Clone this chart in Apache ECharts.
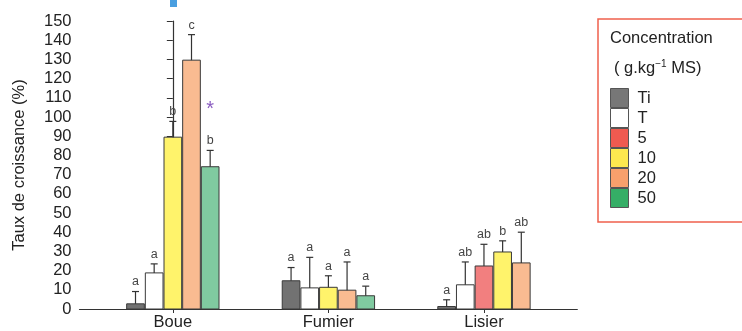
<!DOCTYPE html>
<html>
<head>
<meta charset="utf-8">
<script src="https://cdn.jsdelivr.net/npm/echarts@6/dist/echarts.min.js"></script>
<style>
  html, body { margin: 0; padding: 0; background: #fff; }
  #chart { width: 742px; height: 331px; }
</style>
</head>
<body>
<div id="chart"></div>
<script>
// Growth rate (%) by substrate and concentration (g.kg-1 MS)
const groups = ['Boue', 'Fumier', 'Lisier'];
const concentrations = ['Ti', 'T', '5', '10', '20', '50'];

// mean growth rate per substrate (null = not tested)
const meanTi = [2.7, 14.7, 1.3];
const meanT  = [18.8, 11.0, 12.6];
const mean5  = [null, null, 22.4];
const mean10 = [89.5, 11.3, 29.7];
const mean20 = [129.6, 9.8, 24.0];
const mean50 = [74.1, 6.9, null];

// upper error (standard error) per substrate
const errTi = [6.4, 6.9, 3.5];
const errT  = [4.7, 15.9, 11.9];
const err5  = [null, null, 11.3];
const err10 = [8.2, 6.0, 5.8];
const err20 = [13.3, 14.7, 16.0];
const err50 = [8.5, 5.0, null];

// significance letters
const letTi = ['a', 'a', 'a'];
const letT  = ['a', 'a', 'ab'];
const let5  = ['', '', 'ab'];
const let10 = ['b', 'a', 'b'];
const let20 = ['c', 'a', 'ab'];
const let50 = ['b', 'a', ''];

// asterisk marker level (significant difference)
const star50 = [104, null, null];

const yTicks = [0, 150, 10];

const means = [meanTi, meanT, mean5, mean10, mean20, mean50];
const errs = [errTi, errT, err5, err10, err20, err50];
const lets = [letTi, letT, let5, let10, let20, let50];
const stars = [null, null, null, null, null, star50];

const barFill = ['#727272', '#ffffff', '#f27f7f', '#fff36b', '#f9bb91', '#80caa0'];
const keyFill = ['#777777', '#ffffff', '#ef5a50', '#fde84f', '#f8a06c', '#35ae66'];

const SLOT = 0.12; // bar width in axis units

// slot of each concentration within each substrate group
function slotsFor(g) {
  const present = [];
  for (let c = 0; c < concentrations.length; c++) {
    if (means[c][g] != null) present.push(c);
  }
  return present;
}

const series = concentrations.map((name, c) => {
  const data = [];
  for (let g = 0; g < groups.length; g++) {
    if (means[c][g] == null) continue;
    const present = slotsFor(g);
    const slot = present.indexOf(c);
    const x = g + (slot - (present.length - 1) / 2) * SLOT;
    data.push([x, means[c][g], errs[c][g], lets[c][g], stars[c] ? stars[c][g] : null]);
  }
  return {
    name: name,
    type: 'custom',
    itemStyle: { color: barFill[c] },
    renderItem: function (params, api) {
      const x = api.value(0), v = api.value(1), e = api.value(2);
      const base = api.coord([x, 0]);
      const top = api.coord([x, v]);
      const up = api.coord([x, v + e]);
      const w = api.size([SLOT, 0])[0];
      const children = [
        {
          type: 'rect',
          shape: { x: base[0] - w / 2 + 0.5, y: top[1], width: w - 1, height: base[1] - top[1] },
          style: { fill: barFill[c], stroke: '#3a3a3a', lineWidth: 1 }
        },
        {
          type: 'line',
          shape: { x1: top[0], y1: top[1], x2: up[0], y2: up[1] },
          style: { stroke: '#333', lineWidth: 1.2 }
        },
        {
          type: 'line',
          shape: { x1: up[0] - 3.5, y1: up[1], x2: up[0] + 3.5, y2: up[1] },
          style: { stroke: '#333', lineWidth: 1.2 }
        }
      ];
      const letter = api.value(3);
      if (letter) {
        children.push({
          type: 'text',
          x: up[0], y: up[1] - 3,
          style: {
            text: letter, fill: '#444', fontSize: 12.5,
            fontFamily: 'Liberation Sans, Arial, sans-serif',
            align: 'center', verticalAlign: 'bottom'
          }
        });
      }
      const s = api.value(4);
      if (s != null && !isNaN(s)) {
        const p = api.coord([x, s]);
        children.push({
          type: 'text',
          x: p[0], y: p[1],
          style: {
            text: '*', fill: '#8a5cc0', fontSize: 20,
            fontFamily: 'Liberation Sans, Arial, sans-serif',
            align: 'center', verticalAlign: 'middle'
          }
        });
      }
      return { type: 'group', children: children };
    },
    encode: { x: 0, y: 1 },
    data: data
  };
});

const chart = echarts.init(document.getElementById('chart'), null, { renderer: 'canvas' });
const FONT = 'Liberation Sans, Arial, sans-serif';

chart.setOption({
  animation: false,
  backgroundColor: '#ffffff',
  grid: { left: 79.5, right: 164.7, top: 21, bottom: 21.5, containLabel: false },
  xAxis: {
    type: 'value',
    min: -0.6,
    max: 2.6,
    splitLine: { show: false },
    axisLine: { show: true, lineStyle: { color: '#333', width: 1.2 } },
    axisTick: { show: true, customValues: [0, 1, 2], length: 4, lineStyle: { color: '#333' } },
    axisLabel: {
      customValues: [0, 1, 2],
      formatter: function (v) { return groups[Math.round(v)]; },
      fontSize: 16.5, color: '#222', fontFamily: FONT, margin: 5
    }
  },
  yAxis: {
    type: 'value',
    min: yTicks[0],
    max: yTicks[1],
    interval: yTicks[2],
    name: 'Taux de croissance (%)',
    nameLocation: 'middle',
    nameRotate: 90,
    nameGap: 52,
    nameTextStyle: { fontSize: 16.5, color: '#222', fontFamily: FONT },
    splitLine: { show: false },
    axisLine: { show: true, lineStyle: { color: '#333', width: 1.2 } },
    axisTick: { show: true, length: 6, lineStyle: { color: '#333' } },
    axisLabel: { fontSize: 16.5, color: '#222', fontFamily: FONT, margin: 8 }
  },
  legend: {
    orient: 'vertical',
    left: 610,
    top: 88,
    padding: 0,
    itemWidth: 18,
    itemHeight: 19,
    itemGap: 0,
    selectedMode: false,
    icon: 'rect',
    textStyle: { fontSize: 16.5, color: '#222', fontFamily: FONT, padding: [0, 0, 0, 4] },
    data: concentrations.map((n, c) => ({
      name: n,
      itemStyle: { color: keyFill[c], borderColor: '#555', borderWidth: 1 }
    }))
  },
  graphic: [
    {
      type: 'rect',
      shape: { x: 598, y: 19, width: 160, height: 203 },
      style: { fill: 'none', stroke: '#f0604c', lineWidth: 1.5 }
    },
    {
      type: 'text', x: 610, y: 38,
      style: { text: 'Concentration', fontSize: 16.5, fill: '#222', fontFamily: FONT, verticalAlign: 'middle' }
    },
    {
      type: 'text', x: 614, y: 68,
      style: {
        text: '( g.kg{sup|−1} MS)',
        fontSize: 16.5, fill: '#222', fontFamily: FONT, verticalAlign: 'middle',
        rich: { sup: { fontSize: 10, fill: '#222', fontFamily: FONT, verticalAlign: 'top', padding: [0, 0, 8, 0] } }
      }
    },
    {
      type: 'rect',
      shape: { x: 170, y: 0, width: 7, height: 7 },
      style: { fill: '#4a9fe0' }
    }
  ],
  series: series
});
</script>
</body>
</html>
